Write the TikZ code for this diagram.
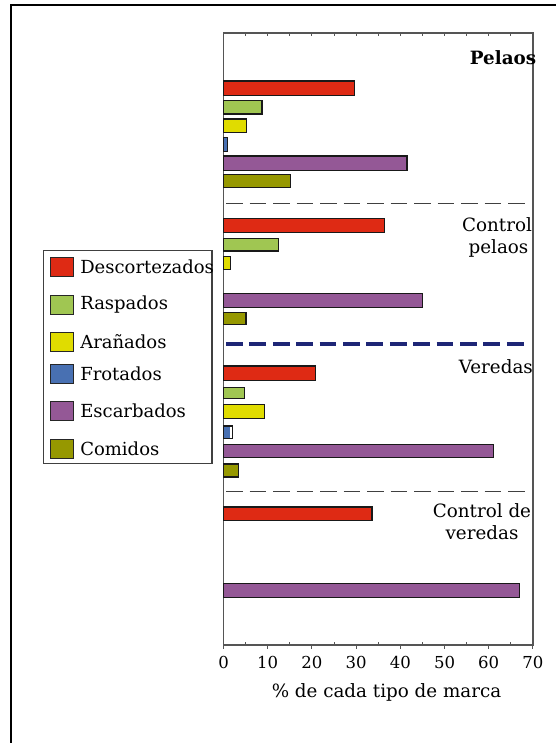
\documentclass[tikz,border=0pt]{standalone}
\usepackage{fontspec}
\setmainfont{DejaVu Serif}
\definecolor{cred}{RGB}{222,42,20}
\definecolor{cgreen}{RGB}{160,198,82}
\definecolor{cyellow}{RGB}{224,220,0}
\definecolor{cblue}{RGB}{72,112,178}
\definecolor{cpurple}{RGB}{148,88,150}
\definecolor{colive}{RGB}{150,152,0}
\definecolor{cnavy}{RGB}{30,38,118}
\definecolor{cframe}{RGB}{85,85,85}
\newcommand\mybar[4]{\draw[barstyle,fill=#4] (223.5,#1) rectangle ({223.5+#3*4.42},{#1+#2});}
\begin{document}
\begin{tikzpicture}[x=1pt,y=-1pt,
  barstyle/.style={draw=black!90,line width=1.2pt},
  frame/.style={draw=cframe,line width=1.4pt},
  sepdash/.style={draw=black!75,line width=1pt,dash pattern=on 16.5pt off 7pt},
  navydash/.style={draw=cnavy,line width=3.5pt,dash pattern=on 16.7pt off 6.7pt},
  swatch/.style={draw=black!85,line width=1.1pt,minimum width=23pt,minimum height=18.5pt,inner sep=0pt,anchor=north west},
  legtext/.style={anchor=west,inner sep=0pt,font=\fontsize{18}{21}\selectfont},
  lbl/.style={inner sep=0pt,font=\fontsize{18.3}{21}\selectfont},
  ticklbl/.style={inner sep=0pt,font=\fontsize{16.5}{18}\selectfont}]
\useasboundingbox (0,0) rectangle (555,743);
% outer border
\draw[line width=2pt] (560,5.5) -- (10.5,5.5) -- (10.5,750);
% plot frame
\draw[frame] (223.5,33) rectangle (533,645);
\foreach \v in {5,10,...,65} {
  \draw[cframe,line width=1pt] ({223.5+\v*4.42},33) -- ({223.5+\v*4.42},36.5);
}
\foreach \v in {5,15,...,65} {
  \draw[cframe,line width=1pt] ({223.5+\v*4.42},645) -- ({223.5+\v*4.42},642);
}
\foreach \v in {0,10,...,70} {
  \draw[cframe,line width=1pt] ({223.5+\v*4.42},645) -- ({223.5+\v*4.42},648.5);
  \node[ticklbl] (t\v) at ({223.5+\v*4.42},662) {\v};
}
\node[lbl] (xlab) at (386.5,692) {\% de cada tipo de marca};
% Pelaos
\mybar{81}{14.5}{29.7}{cred}
\mybar{100.5}{13.5}{8.7}{cgreen}
\mybar{119}{13.5}{5.2}{cyellow}
\mybar{137.5}{14}{0.95}{cblue}
\mybar{156}{14.5}{41.5}{cpurple}
\mybar{174.8}{12.5}{15.2}{colive}
\node[lbl,anchor=base,font=\fontsize{18.3}{21}\selectfont\bfseries] (pelaos) at (503,64.3) {Pelaos};
\draw[sepdash] (226,204) -- (528,204);
% Control pelaos
\mybar{218.7}{14}{36.5}{cred}
\mybar{238.3}{12.7}{12.5}{cgreen}
\mybar{256.3}{13}{1.6}{cyellow}
\mybar{293.3}{14}{45}{cpurple}
\mybar{312.3}{12}{5.1}{colive}
\node[lbl,anchor=base] (cp1) at (497,231.7) {Control};
\node[lbl,anchor=base] (cp2) at (498.5,253.3) {pelaos};
\draw[navydash] (226,344) -- (528,344);
% Veredas
\mybar{366}{14.7}{20.9}{cred}
\mybar{387.3}{11.4}{4.8}{cgreen}
\mybar{404.7}{14}{9.2}{cyellow}
\draw[barstyle,fill=white] (223.5,426) rectangle ({223.5+2.1*4.42},438.3);
\fill[cblue] (224,426.6) rectangle (230,437.7);
\mybar{444.3}{13.4}{61.1}{cpurple}
\mybar{464}{13}{3.4}{colive}
\node[lbl,anchor=base east] (ver) at (533,373.3) {Veredas};
\draw[sepdash] (226,491.7) -- (528,491.7);
% Control veredas
\mybar{507}{13.7}{33.6}{cred}
\mybar{583.3}{14}{67}{cpurple}
\node[lbl,anchor=base] (cv1) at (482,517.7) {Control de};
\node[lbl,anchor=base] (cv2) at (482,539.3) {veredas};
% legend
\draw[draw=black!75,line width=1.1pt,fill=white] (43.3,250.7) rectangle (212,463.3);
\node[swatch,fill=cred] (s1) at (50,257.3) {};
\node[swatch,fill=cgreen] (s2) at (50,295) {};
\node[swatch,fill=cyellow] (s3) at (50,332.3) {};
\node[swatch,fill=cblue] (s4) at (50,364.3) {};
\node[swatch,fill=cpurple] (s5) at (50,401.3) {};
\node[swatch,fill=colive] (s6) at (50,439) {};
\node[legtext] (l1) at ([xshift=6pt]s1.east) {Descortezados};
\node[legtext] (l2) at ([xshift=6pt]s2.east) {Raspados};
\node[legtext] (l3) at ([xshift=6pt]s3.east) {Arañados};
\node[legtext] (l4) at ([xshift=6pt]s4.east) {Frotados};
\node[legtext] (l5) at ([xshift=6pt]s5.east) {Escarbados};
\node[legtext] (l6) at ([xshift=6pt]s6.east) {Comidos};
\end{tikzpicture}
\end{document}
